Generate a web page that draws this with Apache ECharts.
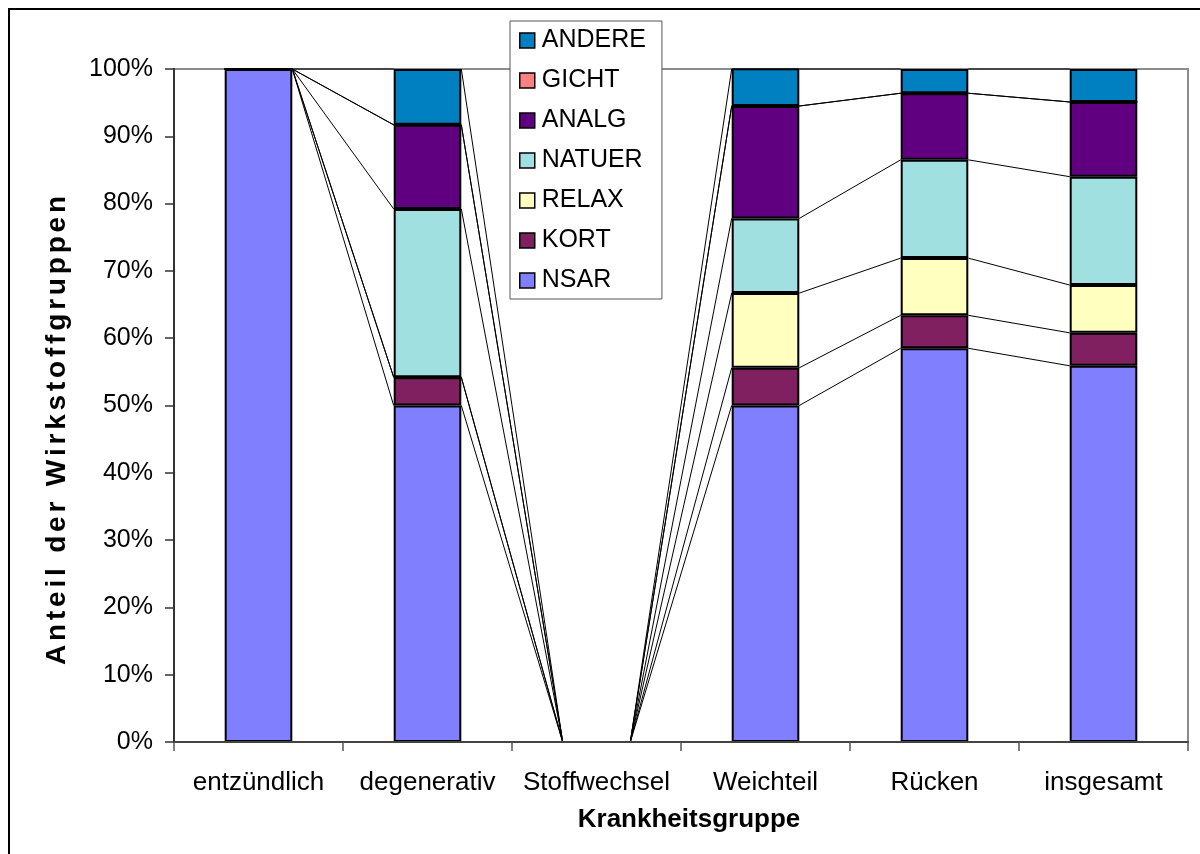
<!DOCTYPE html>
<html>
<head>
<meta charset="utf-8">
<script src="https://cdn.jsdelivr.net/npm/echarts@6/dist/echarts.min.js"></script>
<style>
  html, body { margin: 0; padding: 0; background: #fff; }
  #chart { width: 1200px; height: 854px; }
</style>
</head>
<body>
<div id="chart"></div>
<script>
// Share of drug groups per disease group (stacked to 100 %)
const categories = ['entzündlich', 'degenerativ', 'Stoffwechsel', 'Weichteil', 'Rücken', 'insgesamt'];
const NSAR   = [1.000, 0.500, 0, 0.500, 0.585, 0.559];
const KORT   = [0,     0.042, 0, 0.056, 0.049, 0.049];
const RELAX  = [0,     0,     0, 0.111, 0.085, 0.071];
const NATUER = [0,     0.250, 0, 0.111, 0.146, 0.161];
const ANALG  = [0,     0.125, 0, 0.167, 0.099, 0.111];
const GICHT  = [0,     0,     0, 0,     0,     0];
const ANDERE = [0,     0.083, 0, 0.056, 0.036, 0.049];
const yTicks = [0, 0.1, 0.2, 0.3, 0.4, 0.5, 0.6, 0.7, 0.8, 0.9, 1.0];

const groups = [
  { name: 'NSAR',   data: NSAR,   color: '#8080FF' },
  { name: 'KORT',   data: KORT,   color: '#802060' },
  { name: 'RELAX',  data: RELAX,  color: '#FFFFC0' },
  { name: 'NATUER', data: NATUER, color: '#A0E0E0' },
  { name: 'ANALG',  data: ANALG,  color: '#600080' },
  { name: 'GICHT',  data: GICHT,  color: '#FF8080' },
  { name: 'ANDERE', data: ANDERE, color: '#0080C0' }
];

const FONT = '"Liberation Sans", Arial, sans-serif';
const BAR_RATIO = 0.4;
const Y_TITLE = 'Anteil der Wirkstoffgruppen';

// slightly spaced rendering of the vertical axis title, one rich token per glyph
const yTitleRich = Y_TITLE.split('').map(ch => '{g|' + ch + '}').join('');

// cumulative top of each group per category
const tops = [];
let running = categories.map(() => 0);
groups.forEach(g => {
  running = running.map((v, i) => v + g.data[i]);
  tops.push(running.slice());
});

// connector segments between the tops of neighbouring bars
const connectorData = [];
tops.forEach(t => {
  for (let i = 0; i < categories.length - 1; i++) {
    connectorData.push([i, Math.min(t[i], 1), i + 1, Math.min(t[i + 1], 1)]);
  }
});

const barSeries = groups.map(g => ({
  name: g.name,
  type: 'bar',
  stack: 'total',
  barWidth: (BAR_RATIO * 100) + '%',
  data: g.data,
  itemStyle: { color: g.color, borderColor: '#000', borderWidth: 2 },
  emphasis: { disabled: true },
  z: 3
}));

const connectorSeries = {
  type: 'custom',
  name: 'connectors',
  data: connectorData,
  encode: { x: [0, 2], y: [1, 3] },
  silent: true,
  z: 2,
  renderItem: function (params, api) {
    const half = api.size([1, 0])[0] * BAR_RATIO / 2;
    const p1 = api.coord([api.value(0), api.value(1)]);
    const p2 = api.coord([api.value(2), api.value(3)]);
    return {
      type: 'line',
      shape: { x1: p1[0] + half, y1: p1[1], x2: p2[0] - half, y2: p2[1] },
      style: { stroke: '#000', lineWidth: 1 }
    };
  }
};

const chart = echarts.init(document.getElementById('chart'), null, { renderer: 'canvas' });
chart.setOption({
  animation: false,
  backgroundColor: '#fff',
  textStyle: { fontFamily: FONT },
  graphic: [{
    type: 'rect',
    shape: { x: 9, y: 9, width: 1300, height: 1000 },
    style: { fill: 'none', stroke: '#000', lineWidth: 2 },
    z: 100
  }],
  grid: {
    left: 174, right: 12, top: 69, bottom: 112,
    show: true, borderColor: '#8c8c8c', borderWidth: 2, backgroundColor: 'transparent'
  },
  legend: {
    orient: 'vertical',
    left: 510, top: 21,
    data: groups.map(g => g.name).reverse(),
    icon: 'rect',
    itemWidth: 15, itemHeight: 15,
    itemGap: 15,
    padding: [7, 16, 6, 9],
    backgroundColor: '#fff',
    borderColor: '#555',
    borderWidth: 1,
    textStyle: { fontFamily: FONT, fontSize: 25, lineHeight: 25, color: '#000', padding: [0, 0, 0, 2] },
    itemStyle: { borderColor: '#000', borderWidth: 1.5 },
    selectedMode: false,
    z: 20
  },
  xAxis: {
    type: 'category',
    data: categories,
    boundaryGap: true,
    name: 'Krankheitsgruppe',
    nameLocation: 'middle',
    nameGap: 65,
    nameTextStyle: { fontFamily: FONT, fontSize: 26, fontWeight: 'bold', color: '#000', padding: [0, 0, 0, 16] },
    axisLine: { lineStyle: { color: '#444', width: 2 } },
    axisTick: { show: true, length: 9, lineStyle: { color: '#555', width: 1.5 } },
    axisLabel: { fontFamily: FONT, fontSize: 26, color: '#000', margin: 28, interval: 0 },
    z: 10
  },
  yAxis: {
    type: 'value',
    min: 0, max: 1, interval: 0.1,
    name: yTitleRich,
    nameLocation: 'middle',
    nameGap: 103,
    nameTextStyle: {
      fontFamily: FONT, fontSize: 28, fontWeight: 'bold', color: '#000',
      padding: [0, 50, 0, 0],
      rich: {
        g: { fontFamily: FONT, fontSize: 28, fontWeight: 'bold', color: '#000', padding: [0, 1.9, 0, 1.9] }
      }
    },
    axisLine: { show: true, lineStyle: { color: '#333', width: 2 } },
    axisTick: { show: true, length: 9, lineStyle: { color: '#333', width: 1.5 } },
    splitLine: { show: false },
    axisLabel: {
      fontFamily: FONT, fontSize: 25, color: '#000', margin: 21,
      formatter: v => {
        const t = yTicks.find(k => Math.abs(k - v) < 1e-6);
        return Math.round((t !== undefined ? t : v) * 100) + '%';
      }
    },
    z: 10
  },
  series: [connectorSeries].concat(barSeries)
});
</script>
</body>
</html>
